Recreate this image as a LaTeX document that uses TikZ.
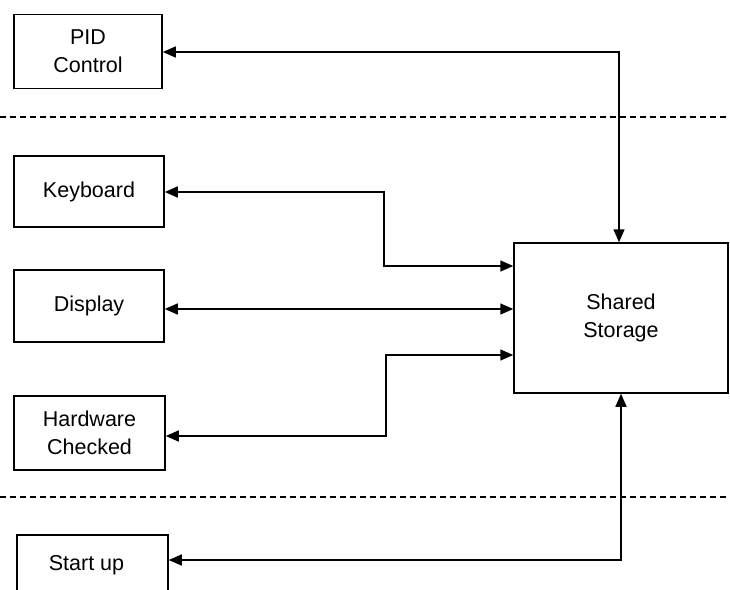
\documentclass[tikz,border=0pt]{standalone}
\usepackage{fontspec}
\setmainfont{Liberation Sans}
\usetikzlibrary{arrows.meta}
\begin{document}
\begin{tikzpicture}[x=1pt,y=-1pt,
  box/.style={draw, line width=1.5pt, inner sep=0pt, align=center,
    font=\fontsize{21.5}{28}\selectfont},
  link/.style={line width=1.5pt, {Triangle[length=13pt,width=11pt]}-{Triangle[length=13pt,width=11pt]}},
  sep/.style={line width=1.6pt, dash pattern=on 6pt off 4pt}]
\useasboundingbox (0,0) rectangle (730,589);
\clip (0,0) rectangle (730,589);
\node[box, minimum width=148pt, minimum height=74pt] (pid) at (88,51.5) {PID\\Control};
\node[box, minimum width=150pt, minimum height=71pt] (kbd) at (89,191.5) {Keyboard};
\node[box, minimum width=150pt, minimum height=72pt] (disp) at (89,306) {Display};
\node[box, minimum width=151pt, minimum height=74pt] (hw) at (89.5,433) {Hardware\\Checked};
\node[box, minimum width=151pt, minimum height=60pt] (start) at (92.5,565) {\hspace*{-12pt}Start up};
\node[box, minimum width=214pt, minimum height=150pt] (store) at (621,318) {\raisebox{5pt}{\begin{tabular}{@{}c@{}}Shared\\Storage\end{tabular}}};
\draw[sep] (0,117) -- (730,117);
\draw[sep] (0,497) -- (730,497);
\coordinate (tc) at (619,52);
\coordinate (bc) at (621,560);
\coordinate (k1) at (384,192);
\coordinate (k2) at (384,266);
\coordinate (h1) at (386,436);
\coordinate (h2) at (386,355);
\draw[link] (pid.east |- tc) -- (tc) -- (store.north -| tc);
\draw[link] (kbd.east |- k1) -- (k1) -- (k2) -- (store.west |- k2);
\draw[link] (disp.east |- 0,309) -- (store.west |- 0,309);
\draw[link] (hw.east |- h1) -- (h1) -- (h2) -- (store.west |- h2);
\draw[link] (start.east |- bc) -- (bc) -- (store.south -| bc);
\end{tikzpicture}
\end{document}
